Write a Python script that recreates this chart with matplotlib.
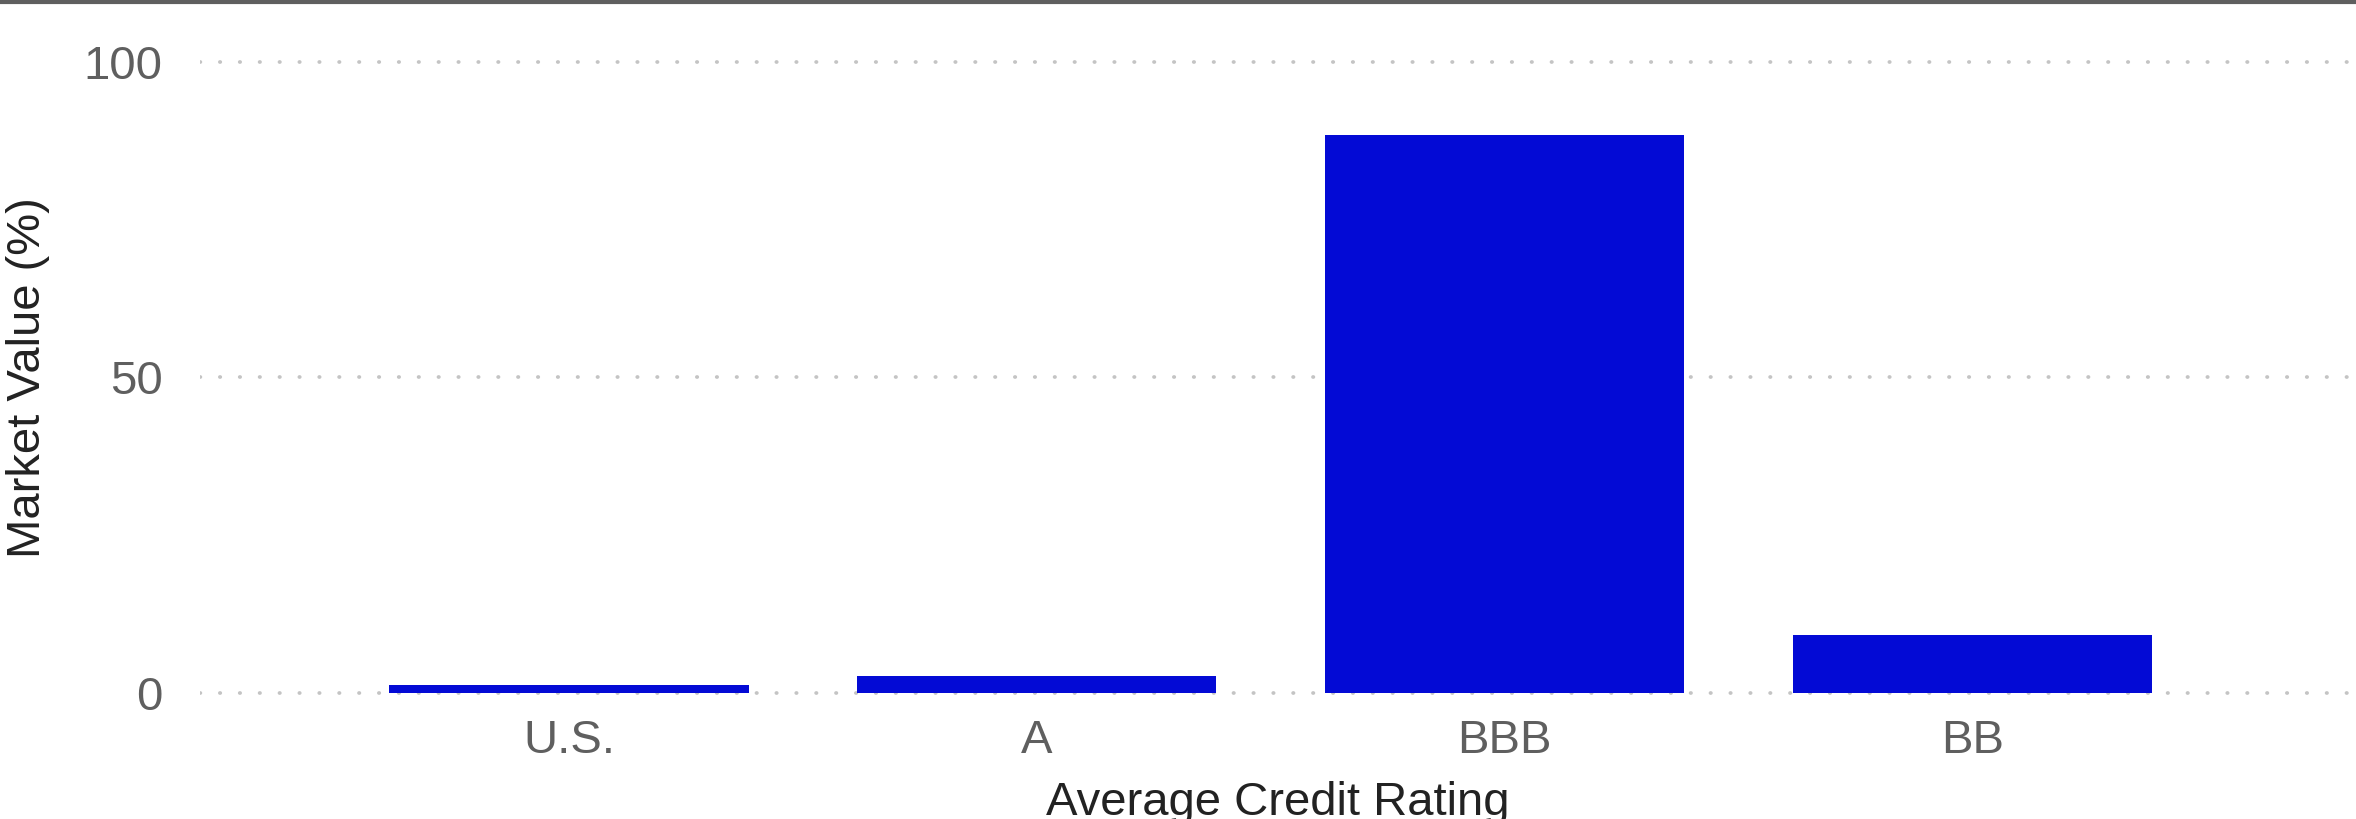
import matplotlib
matplotlib.use("Agg")
import matplotlib.pyplot as plt
from matplotlib.lines import Line2D

plt.rcParams['font.family'] = ['Liberation Sans', 'DejaVu Sans']

# data
ratings = ["U.S.", "A", "BBB", "BB"]
market_value = [1.2, 2.6, 88.3, 9.1]
y_ticks = [0, 50, 100]

bar_color = "#030ad5"
tick_color = "#5f5f5f"
label_color = "#222222"

fig = plt.figure(figsize=(23.56, 8.19), dpi=100)
ax = fig.add_axes([0.0849, 0.1388, 0.9151, 0.8014])

x = list(range(len(ratings)))
ax.bar(x, market_value, width=0.768, color=bar_color, zorder=3)

ax.set_xlim(-0.789, 3.82)
ax.set_ylim(-2, 102)
ax.set_yticks(y_ticks)
ax.set_yticklabels([str(v) for v in y_ticks])
ax.set_xticks(x)
ax.set_xticklabels(ratings)

ax.tick_params(axis='both', length=0, labelsize=34, labelcolor=tick_color)
ax.tick_params(axis='y', pad=27)
ax.tick_params(axis='x', pad=9.5)

for s in ax.spines.values():
    s.set_visible(False)

ax.yaxis.grid(True, color="#c4c4c4", linewidth=2.7, linestyle=(0, (0.1, 5.2)), zorder=0)
for gl in ax.get_ygridlines():
    gl.set_dash_capstyle('round')
ax.xaxis.grid(False)

ax.set_xlabel("Average Credit Rating", fontsize=34, color=label_color)
ax.xaxis.set_label_coords(0.5, -0.116, transform=ax.transAxes)
ax.xaxis.label.set_va('top')
ax.set_ylabel("Market Value (%)", fontsize=34, color=label_color)
ax.yaxis.set_label_coords(-0.0695, 0.5)

# dark rule along the top edge
fig.add_artist(Line2D([0, 1], [1 - 2.0 / 819, 1 - 2.0 / 819], transform=fig.transFigure,
                      color="#5f5f5f", linewidth=3))

fig.savefig("out.png", dpi=100)
